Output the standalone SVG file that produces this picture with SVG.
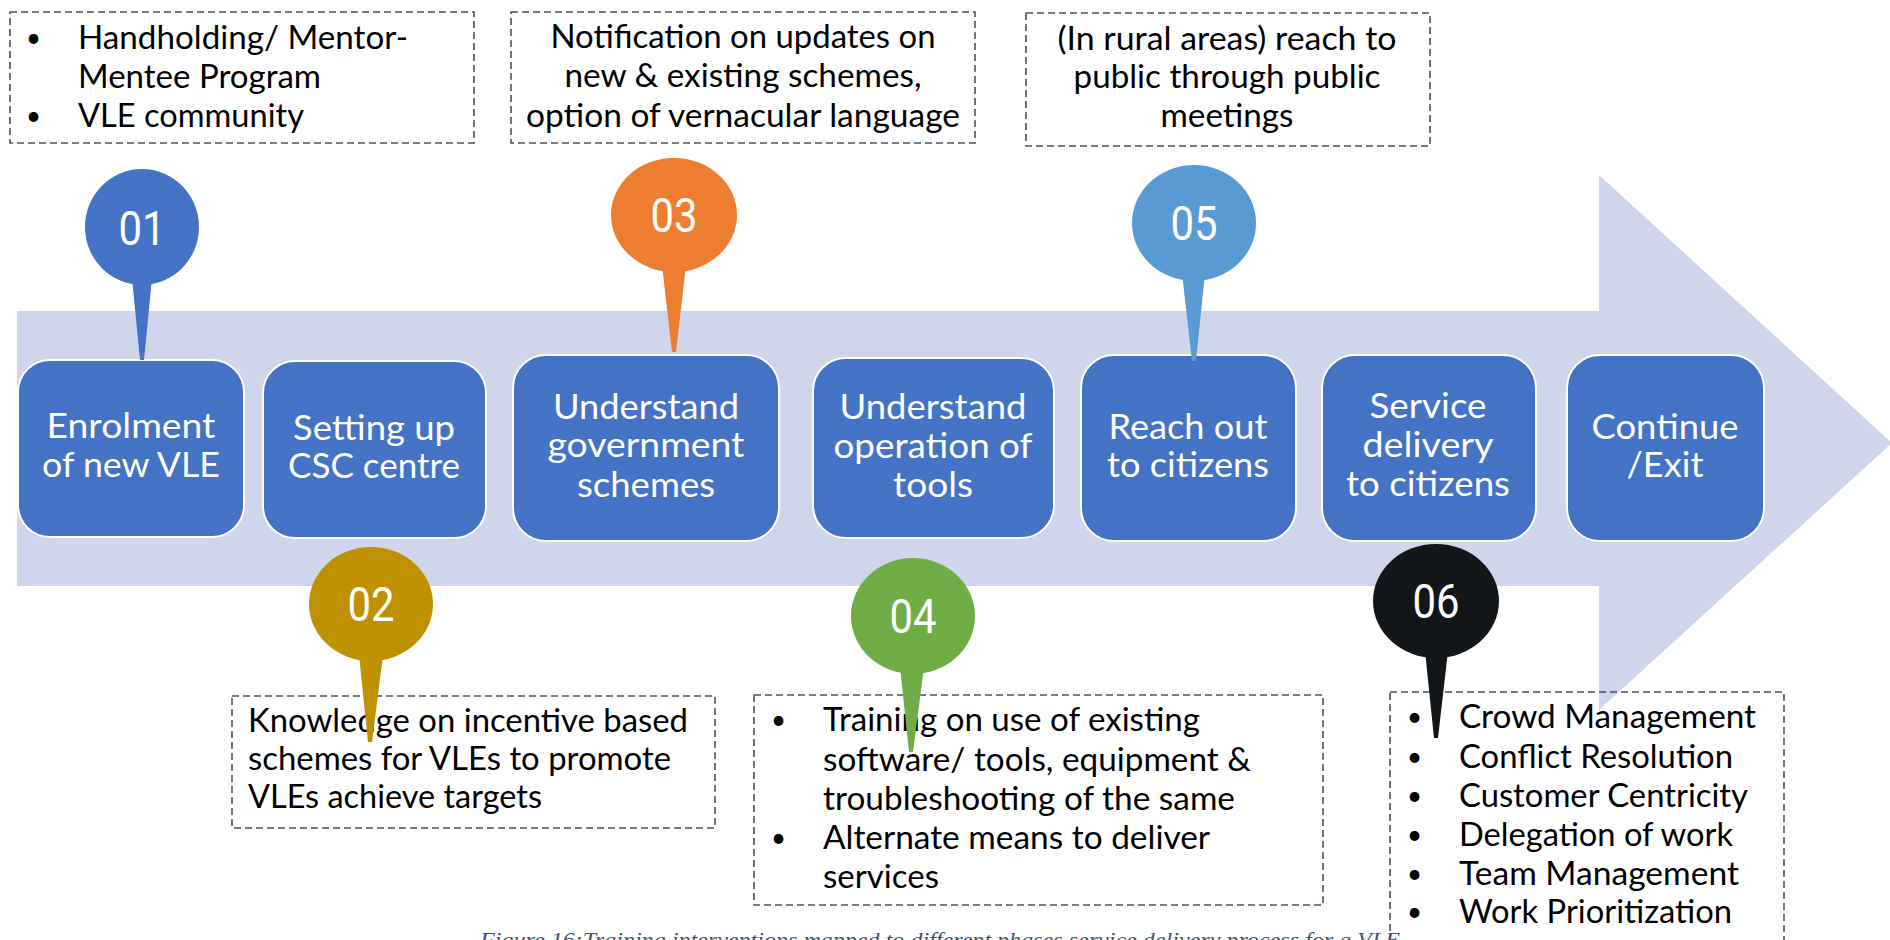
<svg xmlns="http://www.w3.org/2000/svg" width="1890" height="940" viewBox="0 0 1890 940">
  <style>
    .box { fill: #4472C4; stroke: #FFFFFF; stroke-width: 2; }
    .btxt { font-family: Lato, "Open Sans", sans-serif; font-size: 34px; fill: #FFFFFF; text-anchor: middle; }
    .note { fill: none; stroke: #44546A; stroke-width: 1.6; stroke-dasharray: 7 4; }
    .ntxt { font-family: Lato, "Open Sans", sans-serif; font-size: 32px; fill: #000000; }
    .bul { font-family: Lato, "Open Sans", sans-serif; font-size: 26px; fill: #000000; }
    .ctr { text-anchor: middle; }
    .num { font-family: Roboto, "Liberation Sans", sans-serif; font-size: 48px; fill: #FFFFFF; text-anchor: middle; }
    .cap { font-family: "Liberation Serif", serif; font-style: italic; font-size: 22px; fill: #44546A; }
  </style>

  <!-- big background arrow -->
  <g id="arrow">
    <path d="M17,311 H1599 V175 L1892,443 L1599,710 V586 H17 Z" fill="#CFD5EA"/>
  </g>

  <!-- process boxes -->
  <g id="step1">
    <rect class="box" x="18" y="360" width="226" height="177" rx="32"/>
    <text class="btxt" x="131" y="438" textLength="169" lengthAdjust="spacingAndGlyphs">Enrolment</text>
    <text class="btxt" x="131" y="477" textLength="178" lengthAdjust="spacingAndGlyphs">of new VLE</text>
  </g>
  <g id="step2">
    <rect class="box" x="263" y="361" width="223" height="177" rx="32"/>
    <text class="btxt" x="374" y="440" textLength="162" lengthAdjust="spacingAndGlyphs">Setting up</text>
    <text class="btxt" x="374" y="478" textLength="172" lengthAdjust="spacingAndGlyphs">CSC centre</text>
  </g>
  <g id="step3">
    <rect class="box" x="513" y="355" width="266" height="186" rx="33"/>
    <text class="btxt" x="646" y="419" textLength="186" lengthAdjust="spacingAndGlyphs">Understand</text>
    <text class="btxt" x="646" y="457" textLength="197" lengthAdjust="spacingAndGlyphs">government</text>
    <text class="btxt" x="646" y="497" textLength="138" lengthAdjust="spacingAndGlyphs">schemes</text>
  </g>
  <g id="step4">
    <rect class="box" x="813" y="358" width="241" height="180" rx="33"/>
    <text class="btxt" x="933" y="419" textLength="187" lengthAdjust="spacingAndGlyphs">Understand</text>
    <text class="btxt" x="933" y="458" textLength="199" lengthAdjust="spacingAndGlyphs">operation of</text>
    <text class="btxt" x="933" y="497" textLength="80" lengthAdjust="spacingAndGlyphs">tools</text>
  </g>
  <g id="step5">
    <rect class="box" x="1081" y="355" width="215" height="186" rx="33"/>
    <text class="btxt" x="1188" y="439" textLength="159" lengthAdjust="spacingAndGlyphs">Reach out</text>
    <text class="btxt" x="1188" y="477" textLength="162" lengthAdjust="spacingAndGlyphs">to citizens</text>
  </g>
  <g id="step6">
    <rect class="box" x="1322" y="355" width="214" height="186" rx="33"/>
    <text class="btxt" x="1428" y="418" textLength="117" lengthAdjust="spacingAndGlyphs">Service</text>
    <text class="btxt" x="1428" y="457" textLength="131" lengthAdjust="spacingAndGlyphs">delivery</text>
    <text class="btxt" x="1428" y="496" textLength="164" lengthAdjust="spacingAndGlyphs">to citizens</text>
  </g>
  <g id="step7">
    <rect class="box" x="1567" y="355" width="197" height="186" rx="33"/>
    <text class="btxt" x="1665" y="439" textLength="147" lengthAdjust="spacingAndGlyphs">Continue</text>
    <text class="btxt" x="1665" y="477" textLength="77" lengthAdjust="spacingAndGlyphs">/Exit</text>
  </g>

  <!-- dashed note boxes -->
  <g id="note1">
    <rect class="note" x="10" y="12" width="464" height="131"/>
    <text class="bul" x="26" y="47">•</text>
    <text class="ntxt" x="78" y="49" textLength="330" lengthAdjust="spacingAndGlyphs">Handholding/ Mentor-</text>
    <text class="ntxt" x="78" y="88" textLength="243" lengthAdjust="spacingAndGlyphs">Mentee Program</text>
    <text class="bul" x="26" y="125">•</text>
    <text class="ntxt" x="78" y="127" textLength="226" lengthAdjust="spacingAndGlyphs">VLE community</text>
  </g>
  <g id="note3">
    <rect class="note" x="511" y="12" width="464" height="131"/>
    <text class="ntxt ctr" x="743" y="48" textLength="385" lengthAdjust="spacingAndGlyphs">Notification on updates on</text>
    <text class="ntxt ctr" x="743" y="87" textLength="357" lengthAdjust="spacingAndGlyphs">new &amp; existing schemes,</text>
    <text class="ntxt ctr" x="743" y="127" textLength="434" lengthAdjust="spacingAndGlyphs">option of vernacular language</text>
  </g>
  <g id="note5">
    <rect class="note" x="1026" y="13" width="404" height="133"/>
    <text class="ntxt ctr" x="1227" y="50" textLength="339" lengthAdjust="spacingAndGlyphs">(In rural areas) reach to</text>
    <text class="ntxt ctr" x="1227" y="88" textLength="307" lengthAdjust="spacingAndGlyphs">public through public</text>
    <text class="ntxt ctr" x="1227" y="127" textLength="133" lengthAdjust="spacingAndGlyphs">meetings</text>
  </g>
  <g id="note2">
    <rect class="note" x="232" y="696" width="483" height="132"/>
    <text class="ntxt" x="248" y="732" textLength="440" lengthAdjust="spacingAndGlyphs">Knowledge on incentive based</text>
    <text class="ntxt" x="248" y="770" textLength="423" lengthAdjust="spacingAndGlyphs">schemes for VLEs to promote</text>
    <text class="ntxt" x="248" y="808" textLength="294" lengthAdjust="spacingAndGlyphs">VLEs achieve targets</text>
  </g>
  <g id="note4">
    <rect class="note" x="754" y="695" width="569" height="210"/>
    <text class="bul" x="771" y="729">•</text>
    <text class="ntxt" x="823" y="731" textLength="377" lengthAdjust="spacingAndGlyphs">Training on use of existing</text>
    <text class="ntxt" x="823" y="771" textLength="428" lengthAdjust="spacingAndGlyphs">software/ tools, equipment &amp;</text>
    <text class="ntxt" x="823" y="810" textLength="412" lengthAdjust="spacingAndGlyphs">troubleshooting of the same</text>
    <text class="bul" x="771" y="847">•</text>
    <text class="ntxt" x="823" y="849" textLength="387" lengthAdjust="spacingAndGlyphs">Alternate means to deliver</text>
    <text class="ntxt" x="823" y="888" textLength="116" lengthAdjust="spacingAndGlyphs">services</text>
  </g>
  <g id="note6">
    <rect class="note" x="1390" y="692" width="394" height="270"/>
    <text class="bul" x="1407" y="726">•</text>
    <text class="ntxt" x="1459" y="728" textLength="297" lengthAdjust="spacingAndGlyphs">Crowd Management</text>
    <text class="bul" x="1407" y="766">•</text>
    <text class="ntxt" x="1459" y="768" textLength="274" lengthAdjust="spacingAndGlyphs">Conflict Resolution</text>
    <text class="bul" x="1407" y="805">•</text>
    <text class="ntxt" x="1459" y="807" textLength="289" lengthAdjust="spacingAndGlyphs">Customer Centricity</text>
    <text class="bul" x="1407" y="844">•</text>
    <text class="ntxt" x="1459" y="846" textLength="274" lengthAdjust="spacingAndGlyphs">Delegation of work</text>
    <text class="bul" x="1407" y="883">•</text>
    <text class="ntxt" x="1459" y="885" textLength="280" lengthAdjust="spacingAndGlyphs">Team Management</text>
    <text class="bul" x="1407" y="921">•</text>
    <text class="ntxt" x="1459" y="923" textLength="273" lengthAdjust="spacingAndGlyphs">Work Prioritization</text>
  </g>

  <!-- pin markers (connectors from notes to steps) -->
  <g id="connectors">
    <g id="pin01" fill="#4472C4">
      <polygon points="132,278 152,278 144,360 140,360"/>
      <ellipse cx="142" cy="227" rx="57" ry="58"/>
      <text class="num" x="142" y="245" textLength="47" lengthAdjust="spacingAndGlyphs">01</text>
    </g>
    <g id="pin02" fill="#BF9000">
      <polygon points="359,655 383,655 372,742 368,742"/>
      <ellipse cx="371" cy="604" rx="62" ry="57"/>
      <text class="num" x="371" y="621" textLength="47" lengthAdjust="spacingAndGlyphs">02</text>
    </g>
    <g id="pin03" fill="#ED7D31">
      <polygon points="662,265 686,265 676,352 672,352"/>
      <ellipse cx="674" cy="215" rx="63" ry="57"/>
      <text class="num" x="674" y="232" textLength="47" lengthAdjust="spacingAndGlyphs">03</text>
    </g>
    <g id="pin04" fill="#70AD47">
      <polygon points="900,667 924,667 913,752 909,752"/>
      <ellipse cx="913" cy="616" rx="62" ry="58"/>
      <text class="num" x="913" y="633" textLength="47" lengthAdjust="spacingAndGlyphs">04</text>
    </g>
    <g id="pin05" fill="#5B9BD5">
      <polygon points="1182,273 1205,273 1196,361 1192,361"/>
      <ellipse cx="1194" cy="223" rx="62" ry="58"/>
      <text class="num" x="1194" y="240" textLength="47" lengthAdjust="spacingAndGlyphs">05</text>
    </g>
    <g id="pin06" fill="#131619">
      <polygon points="1425,651 1448,651 1438,738 1434,738"/>
      <ellipse cx="1436" cy="601" rx="63" ry="57"/>
      <text class="num" x="1436" y="618" textLength="47" lengthAdjust="spacingAndGlyphs">06</text>
    </g>
  </g>

  <text class="cap" x="480" y="947" textLength="920" lengthAdjust="spacingAndGlyphs">Figure 16:Training interventions mapped to different phases service delivery process for a VLE</text>
</svg>
